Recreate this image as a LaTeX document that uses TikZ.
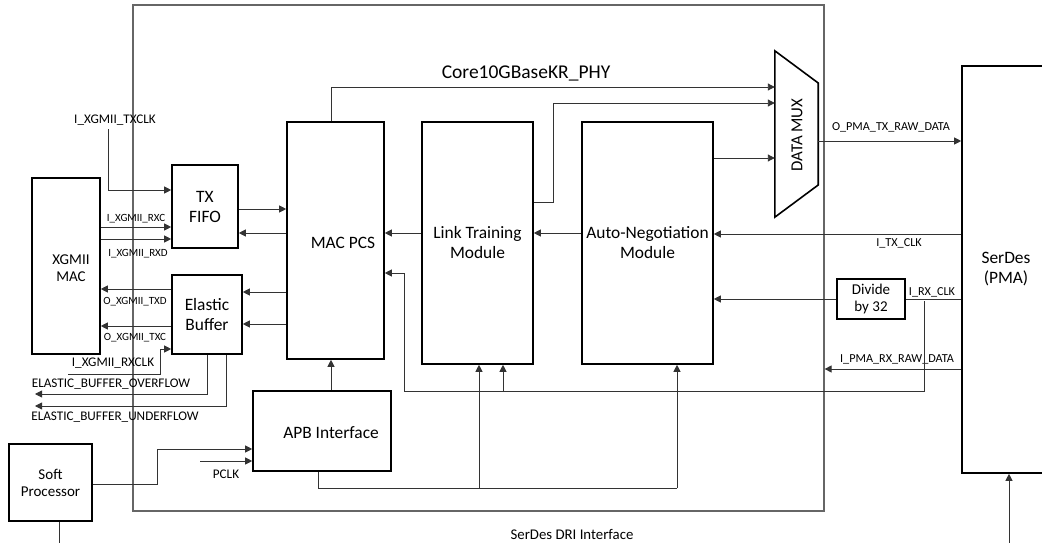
\documentclass[tikz,border=0pt]{standalone}
\usepackage{fontspec}
\setmainfont{Carlito}
\usetikzlibrary{arrows.meta}
\tikzset{
  blk/.style={draw=black, line width=1.6pt, rectangle, inner sep=0pt, align=center, font=\fontsize{17.4}{20}\selectfont},
  blkm/.style={blk, font=\fontsize{15}{17}\selectfont},
  lbl/.style={inner sep=0pt, align=center, font=\fontsize{13.2}{15}\selectfont},
  lbls/.style={inner sep=0pt, align=center, font=\fontsize{11}{13}\selectfont},
  lblr/.style={inner sep=0pt, align=center, font=\fontsize{12.2}{14}\selectfont},
  conn/.style={draw=black!80, line width=0.9pt},
  arr/.style={conn, -{Triangle[length=7pt,width=7pt]}},
}
\begin{document}
\begin{tikzpicture}[x=1pt,y=-1pt]
\useasboundingbox (0,0) rectangle (1042,543);
\clip (0,0) rectangle (1042,543);
\fill[white] (0,0) rectangle (1042,543);

% outer box
\node[draw=black!60, line width=1.2pt, rectangle, minimum width=691pt, minimum height=506pt, inner sep=0pt] (phy) at (478.5,258) {};
\node[inner sep=0pt, font=\fontsize{19.5}{22}\selectfont] (title) at (526,73) {Core10GBaseKR\_PHY};
\node[inner sep=0pt, font=\fontsize{14.8}{17}\selectfont] (dri) at (572,534) {SerDes DRI Interface};

% blocks
\node[blkm, minimum width=68pt, minimum height=176pt] (xg) at (66,266) {};
\node[inner sep=0pt, align=center, font=\fontsize{15}{17}\selectfont] (xgt) at (71,268) {XGMII\\MAC};
\node[blk, minimum width=66pt, minimum height=83pt] (txf) at (205,206.5) {TX\\FIFO};
\node[blk, minimum width=70pt, minimum height=79pt] (eb) at (207,314.5) {Elastic\\Buffer};
\node[blk, minimum width=97pt, minimum height=237pt] (mac) at (335.5,240.5) {};
\node[inner sep=0pt, font=\fontsize{17.4}{20}\selectfont] (mact) at (343,243) {MAC PCS};
\node[blk, minimum width=111pt, minimum height=242pt] (lt) at (477.5,243) {Link Training\\Module};
\node[blk, minimum width=131pt, minimum height=242pt] (an) at (647.5,243) {Auto-Negotiation\\Module};
\node[blkm, minimum width=68pt, minimum height=40pt] (div) at (871,299) {Divide\\by 32};
\node[blk, minimum width=138pt, minimum height=80pt] (apb) at (322,431) {};
\node[inner sep=0pt, font=\fontsize{17.4}{20}\selectfont] (apbt) at (331,433) {APB Interface};
\node[blkm, minimum width=83pt, minimum height=77pt] (soft) at (50.5,482.5) {Soft\\Processor};
\node[blk, minimum width=88pt, minimum height=407pt] (serdes) at (1006,269.5) {SerDes\\(PMA)};

% data mux
\node[inner sep=0pt, minimum width=43pt, minimum height=166pt] (mux) at (796.5,134) {};
\draw[line width=1.6pt, line join=miter] (mux.north west) -- (mux.east |- 0,83) -- (mux.east |- 0,185) -- (mux.south west) -- cycle;
\node[inner sep=0pt, rotate=90, font=\fontsize{16.8}{19}\selectfont] (muxt) at (797,135) {DATA MUX};

% labels
\node[lbl] (l1) at (115,120) {I\_XGMII\_TXCLK};
\node[lbls] (l2) at (136,219) {I\_XGMII\_RXC};
\node[lbls] (l3) at (138,254) {I\_XGMII\_RXD};
\node[lbls] (l4) at (135,302) {O\_XGMII\_TXD};
\node[lbls] (l5) at (135,338) {O\_XGMII\_TXC};
\node[lbl] (l6) at (113,363) {I\_XGMII\_RXCLK};
\node[lbl] (l7) at (111,384) {ELASTIC\_BUFFER\_OVERFLOW};
\node[lbl] (l8) at (115,417) {ELASTIC\_BUFFER\_UNDERFLOW};
\node[lbl] (l9) at (226,474) {PCLK};
\node[lblr] (l10) at (899,243) {I\_TX\_CLK};
\node[lblr] (l11) at (932,292) {I\_RX\_CLK};
\node[lblr] (l12) at (897,359) {I\_PMA\_RX\_RAW\_DATA};
\node[lblr] (l13) at (891,127) {O\_PMA\_TX\_RAW\_DATA};

% free ends
\coordinate (txclk) at (108,129);
\coordinate (rxclk) at (68,374);
\coordinate (ovf) at (35,394);
\coordinate (uvf) at (35,406);
\coordinate (pclk) at (200,461);
\coordinate (rxb) at (924,301);
\coordinate (softdri) at (59,560);
\coordinate (serdri) at (1009,560);

% connectors
\draw[arr] (txclk) |- (txf.west |- 0,190);
\draw[arr] (xg.east |- 0,227) -- (txf.west |- 0,227);
\draw[arr] (xg.east |- 0,239) -- (txf.west |- 0,239);
\draw[arr] (eb.west |- 0,289) -- (xg.east |- 0,289);
\draw[arr] (eb.west |- 0,326) -- (xg.east |- 0,326);
\draw[arr] (rxclk) -- (160,374) |- (eb.west |- 0,349);
\draw[arr] (eb.south -| 207,0) |- (ovf);
\draw[arr] (eb.south -| 226,0) |- (uvf);

\draw[arr] (txf.east |- 0,209) -- (mac.west |- 0,209);
\draw[arr] (mac.west |- 0,233) -- (txf.east |- 0,233);
\draw[arr] (mac.west |- 0,292) -- (eb.east |- 0,292);
\draw[arr] (mac.west |- 0,324) -- (eb.east |- 0,324);
\draw[arr] (lt.west |- 0,233) -- (mac.east |- 0,233);
\draw[arr] (an.west |- 0,233) -- (lt.east |- 0,233);

\draw[arr] (serdes.west |- 0,234) -- (an.east |- 0,234);
\draw[arr] (div.west) -- (an.east |- div.west);
\draw[conn] (serdes.west |- div.east) -- (div.east);
\draw[arr] (rxb) |- (404,391) |- (mac.east |- 0,273);
\draw[arr] (503,391) -- (lt.south -| 503,0);
\draw[arr] (serdes.west |- 0,369) -- (phy.east |- 0,369);

\draw[arr] (mac.north -| 331,0) |- (mux.west |- 0,87);
\draw[arr] (lt.east |- 0,202) -- (553,202) |- (mux.west |- 0,103);
\draw[arr] (an.east |- 0,158) -- (mux.west |- 0,158);
\draw[arr] (mux.east |- 0,141) -- (serdes.west |- 0,141);

\draw[arr] (apb.north -| 331,0) -- (mac.south -| 331,0);
\draw[conn] (apb.south -| 318,0) |- (677,488);
\draw[arr] (479,488) -- (lt.south -| 479,0);
\draw[arr] (677,488) -- (an.south -| 677,0);
\draw[arr] (soft.east |- 0,484) -- (157,484) |- (apb.west |- 0,449);
\draw[arr] (pclk) -- (apb.west |- pclk);
\draw[conn] (soft.south -| 59,0) -- (softdri);
\draw[arr] (serdri) -- (serdes.south -| 1009,0);
\end{tikzpicture}
\end{document}
